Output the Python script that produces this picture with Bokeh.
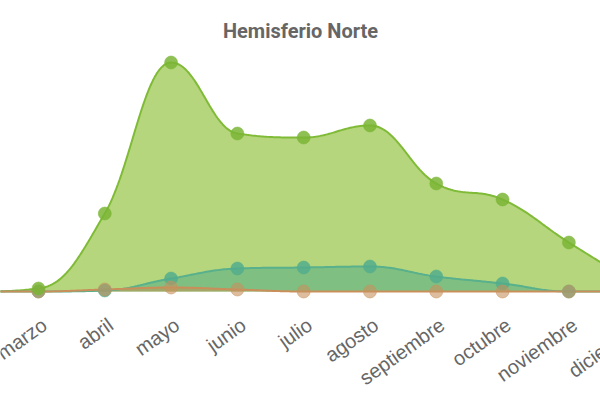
import numpy as np
from bokeh.plotting import figure
from bokeh.models import Range1d
from bokeh.embed import file_html
from bokeh.resources import INLINE

# ---- data ----
months = ["enero", "febrero", "marzo", "abril", "mayo", "junio", "julio",
          "agosto", "septiembre", "octubre", "noviembre", "diciembre"]
serie_verde = [0, 0, 3, 78, 229, 158, 154, 166, 108, 92, 49, 8]
serie_teal = [0, 0, 0, 1, 13, 23, 24, 25, 15, 8, 0, 0]
serie_naranja = [0, 0, 0, 2, 4, 2, 0, 0, 0, 0, 0, 0]
first_visible = 2  # the chart view starts just before "marzo"


def spline_path(xv, yv, smoothing=1.5, n=40):
    """Highcharts-style spline: cubic bezier through the data points."""
    xv = list(map(float, xv)); yv = list(map(float, yv))
    m = len(xv)
    lc = [(x, y) for x, y in zip(xv, yv)]
    rc = [(x, y) for x, y in zip(xv, yv)]
    denom = smoothing + 1
    for i in range(1, m - 1):
        px, py = xv[i], yv[i]
        lx, ly = xv[i - 1], yv[i - 1]
        nx, ny = xv[i + 1], yv[i + 1]
        lcx = (smoothing * px + lx) / denom
        lcy = (smoothing * py + ly) / denom
        rcx = (smoothing * px + nx) / denom
        rcy = (smoothing * py + ny) / denom
        corr = 0.0
        if rcx != lcx:
            corr = (rcy - lcy) * (rcx - px) / (rcx - lcx) + py - rcy
        lcy += corr; rcy += corr
        if lcy > ly and lcy > py:
            lcy = max(ly, py); rcy = 2 * py - lcy
        elif lcy < ly and lcy < py:
            lcy = min(ly, py); rcy = 2 * py - lcy
        if rcy > ny and rcy > py:
            rcy = max(ny, py); lcy = 2 * py - rcy
        elif rcy < ny and rcy < py:
            rcy = min(ny, py); lcy = 2 * py - rcy
        lc[i] = (lcx, lcy); rc[i] = (rcx, rcy)
    t = np.linspace(0, 1, n)
    xs, ys = [xv[0]], [yv[0]]
    for i in range(1, m):
        p0 = (xv[i - 1], yv[i - 1]); p1 = rc[i - 1]; p2 = lc[i]; p3 = (xv[i], yv[i])
        bx = (1 - t) ** 3 * p0[0] + 3 * (1 - t) ** 2 * t * p1[0] + 3 * (1 - t) * t ** 2 * p2[0] + t ** 3 * p3[0]
        by = (1 - t) ** 3 * p0[1] + 3 * (1 - t) ** 2 * t * p1[1] + 3 * (1 - t) * t ** 2 * p2[1] + t ** 3 * p3[1]
        xs.extend(bx[1:]); ys.extend(by[1:])
    return np.array(xs), np.array(ys)


idx = list(range(len(months)))

# frame runs to the bottom of the page; the space under the zero line holds the
# slanted month labels, which are cut at the right edge as in the reference
p = figure(width=600, height=400, output_backend="svg", toolbar_location=None,
           x_range=Range1d(1.427, 10.477), y_range=Range1d(-109, 243),
           min_border_left=0, min_border_right=0, min_border_top=48,
           min_border_bottom=0, title="Hemisferio Norte")
p.outline_line_color = None
p.grid.visible = False
p.yaxis.visible = False
p.xaxis.visible = False
p.title.align = "center"
p.title.text_font = "Roboto"
p.title.text_font_style = "bold"
p.title.text_font_size = "20px"
p.title.text_color = "#666666"
p.title.standoff = 11

series = [
    (serie_verde, "#b5d67c", 1.0, "#80bb38", "#7ab535", 0.85),
    (serie_teal, "#3fa58a", 0.45, "#58b08c", "#52ad8c", 0.85),
    (serie_naranja, "#d08a4a", 0.45, "#c98f5a", "#c8915e", 0.6),
]
for vals, fill, falpha, line, mk, ma in series:
    xs, ys = spline_path(idx, vals)
    p.varea(x=xs, y1=np.zeros_like(ys), y2=ys, fill_color=fill, fill_alpha=falpha)
for vals, fill, falpha, line, mk, ma in series:
    xs, ys = spline_path(idx, vals)
    p.line(xs, ys, line_color=line, line_width=2)
# markers: teal, orange, then green on top
for k in (1, 2, 0):
    vals, fill, falpha, line, mk, ma = series[k]
    p.scatter(idx, vals, size=13, fill_color=mk, fill_alpha=ma,
              line_color=mk, line_alpha=0.5, line_width=1)

# slanted category labels under each visible month
vis = idx[first_visible:]
p.text(x=vis, y=[-29] * len(vis), text=months[first_visible:], angle=0.62,
       x_offset=6, y_offset=2,
       text_align="right", text_baseline="middle",
       text_font={"value": "Liberation Sans"}, text_font_size="20px",
       text_color="#666666")

open("out.html", "w").write(file_html(p, INLINE))
